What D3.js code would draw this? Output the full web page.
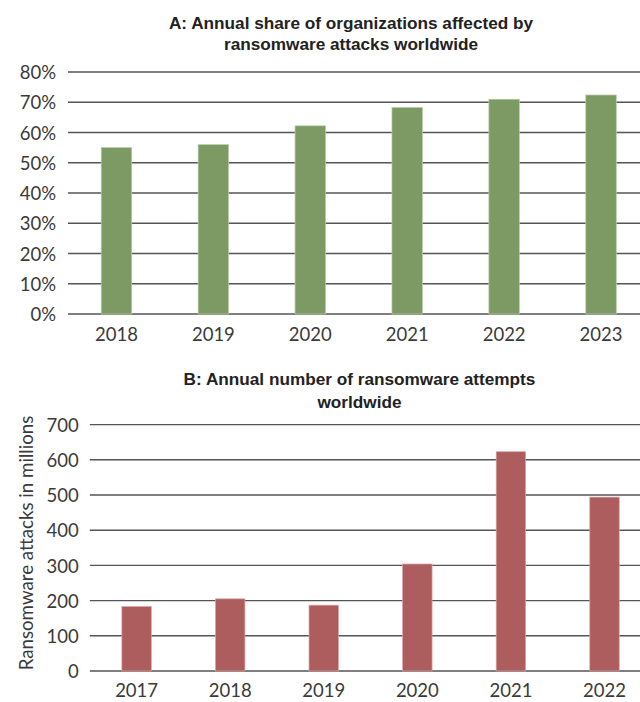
<!DOCTYPE html>
<html>
<head>
<meta charset="utf-8">
<script src="https://cdn.jsdelivr.net/npm/d3@7"></script>
<style>
  html, body { margin: 0; padding: 0; background: #fff; overflow: hidden; }
  svg { display: block; }
  .tick text { font-family: Lato, "Open Sans", sans-serif; font-weight: 400; fill: #3a3a3a; }
  .title { font-family: "Liberation Sans Narrow", "Liberation Sans", sans-serif; font-weight: bold; fill: #222; }
</style>
</head>
<body>
<script>
// Panel A: share of organizations affected by ransomware
const yearsA = ["2018", "2019", "2020", "2021", "2022", "2023"];
const shareA = [55, 56, 62.2, 68.3, 71, 72.4];
const ticksA = [0, 10, 20, 30, 40, 50, 60, 70, 80];
const titleA = ["A: Annual share of organizations affected by", "ransomware attacks worldwide"];

// Panel B: ransomware attempts (millions)
const yearsB = ["2017", "2018", "2019", "2020", "2021", "2022"];
const attemptsB = [183, 205, 187, 304, 623, 494];
const ticksB = [0, 100, 200, 300, 400, 500, 600, 700];
const titleB = ["B: Annual number of ransomware attempts", "worldwide"];
const yLabelB = "Ransomware attacks in millions";

const W = 640, H = 702;
const svg = d3.select("body").append("svg").attr("width", W).attr("height", H);

function panel(cfg) {
  const g = svg.append("g");
  const x = d3.scaleBand().domain(cfg.cats).range([cfg.x0, cfg.x1])
    .paddingInner(0.685).paddingOuter(0.3425);
  const y = d3.scaleLinear().domain([0, cfg.max]).range([cfg.yBottom, cfg.yTop]);

  // horizontal gridlines, running off the right edge
  g.append("g").selectAll("line").data(cfg.ticks).join("line")
    .attr("x1", cfg.x0).attr("x2", W)
    .attr("y1", d => y(d)).attr("y2", d => y(d))
    .attr("stroke", "#555").attr("stroke-width", 1.4);

  // bars
  g.append("g").selectAll("rect").data(cfg.vals).join("rect")
    .attr("x", (d, i) => x(cfg.cats[i]))
    .attr("width", x.bandwidth())
    .attr("y", d => y(d))
    .attr("height", d => y(0) - y(d))
    .attr("fill", cfg.color)
    .attr("stroke", cfg.edge).attr("stroke-width", 0.7);

  // value axis labels
  const ya = g.append("g").attr("transform", `translate(${cfg.x0},0)`)
    .call(d3.axisLeft(y).tickValues(cfg.ticks).tickFormat(cfg.fmt).tickSize(0).tickPadding(cfg.yPad));
  ya.select(".domain").remove();
  ya.selectAll(".tick text").style("font-size", "18.5px").attr("dy", "0.36em");

  // category labels
  const xa = g.append("g").attr("transform", `translate(0,${cfg.yBottom})`)
    .call(d3.axisBottom(x).tickSize(0).tickPadding(0));
  xa.select(".domain").remove();
  xa.selectAll(".tick text").style("font-size", "18.5px").attr("dy", null).attr("y", cfg.xBase);

  // two-line title
  cfg.title.forEach((t, i) => {
    g.append("text").attr("class", "title")
      .attr("x", cfg.titleX).attr("y", cfg.titleY + i * cfg.titleLH)
      .attr("text-anchor", "middle").style("font-size", "17.2px").text(t);
  });
  return { x, y };
}

panel({
  cats: yearsA, vals: shareA, ticks: ticksA, max: 80,
  x0: 68, x1: 649.5, yTop: 72, yBottom: 314,
  color: "#7e9a64", edge: "#bccdac",
  fmt: d => d + "%", yPad: 12, xBase: 26.5,
  title: titleA, titleX: 351, titleY: 29, titleLH: 21
});

panel({
  cats: yearsB, vals: attemptsB, ticks: ticksB, max: 700,
  x0: 89.8, x1: 651.3, yTop: 424.6, yBottom: 671,
  color: "#ad5d5e", edge: "#dba6a6",
  fmt: d => d, yPad: 11, xBase: 26,
  title: titleB, titleX: 359.5, titleY: 384.5, titleLH: 23.5
});

// panel B value-axis title, fitted to its span beside the axis
const yl = svg.append("text")
  .attr("transform", "translate(33,543) rotate(-90)")
  .attr("text-anchor", "middle")
  .style("font-family", "Lato, 'Open Sans', sans-serif").style("font-weight", 400)
  .style("font-size", "16px").style("fill", "#3a3a3a")
  .text(yLabelB);
const len = yl.node().getComputedTextLength();
yl.style("font-size", (16 * 255 / len).toFixed(2) + "px");
</script>
</body>
</html>
